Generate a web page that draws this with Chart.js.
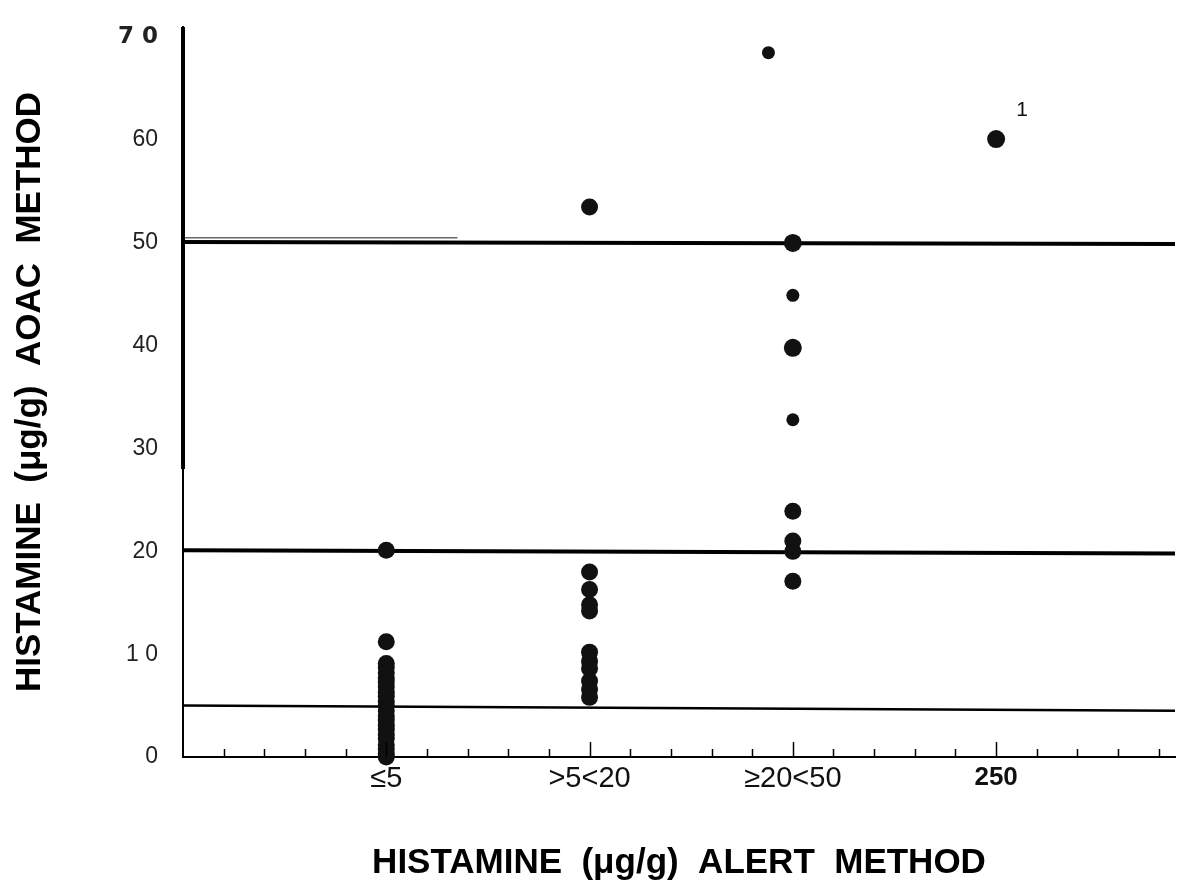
<!DOCTYPE html>
<html>
<head>
<meta charset="utf-8">
<script src="https://cdn.jsdelivr.net/npm/chart.js@4.4.1/dist/chart.umd.min.js"></script>
<style>
  html, body { margin: 0; background: #fff; }
  #wrap { width: 1184px; height: 890px; }
</style>
</head>
<body>
<div id="wrap"><canvas id="chart"></canvas></div>
<script>
// categories on the x axis (positions 1..4)
const categories = ["≤5", ">5<20", "≥20<50", "250"];
const yTickLabels = ["0", "1 0", "20", "30", "40", "50", "60", "7 0"];

// AOAC values
const le5 = [20.1, 11.2, 9.1, 8.7, 8.2, 7.7, 7.3, 6.8, 6.3, 5.9, 5.4, 5.0, 4.5, 4.0, 3.6, 3.1, 2.7, 2.2, 1.8, 1.2, 0.8, 0.3, 0];
const gt5lt20 = [53.5, 18.0, 16.3, 14.8, 14.2, 10.2, 9.3, 8.6, 7.4, 6.6, 5.8];
const ge20lt50 = [50.0, 44.9, 39.8, 32.8, 23.9, 21.0, 20.0, 17.1];
const eq250 = [60.1];
// top point of the >=20<50 group sits a little left of its column
const strayX = 2.88;
const strayY = 68.5;

// horizontal limit lines (left end / right end)
const limitStart = [50.1, 20.1, 5.0];
const limitEnd = [49.9, 19.8, 4.5];
// faint doubled stroke just above the 50 line on the left
const ghostLine = { from: 0, to: 1.35, y: 50.5 };

const xMax = 4.88;

// dot sizes in the >=20<50 column vary in the print
const ge20lt50Radius = [9, 6.5, 9, 6.5, 8.5, 8.5, 8.5, 8.5];

function column(vals, x) {
    return vals.map((v) => ({ x: x, y: v }));
}

const points = [
    ...column(le5, 1),
    ...column(gt5lt20, 2),
    ...column(ge20lt50, 3),
    ...column(eq250, 4),
    { x: strayX, y: strayY }
];
const radii = [
    ...le5.map(() => 8.5),
    ...gt5lt20.map(() => 8.5),
    ...ge20lt50Radius,
    ...eq250.map(() => 9),
    6.5
];

const limitWidths = [4, 4, 2.5];
const limitSets = limitStart.map((y0, i) => ({
    type: "line",
    data: [{ x: 0, y: y0 }, { x: xMax, y: limitEnd[i] }],
    borderColor: "#000",
    borderWidth: limitWidths[i],
    pointRadius: 0,
    fill: false
}));
limitSets.push({
    type: "line",
    data: [{ x: ghostLine.from, y: ghostLine.y }, { x: ghostLine.to, y: ghostLine.y }],
    borderColor: "#666",
    borderWidth: 1.3,
    pointRadius: 0,
    fill: false
});

// small tick marks pointing up into the plot, every 0.2
const inwardTicks = {
    id: "inwardTicks",
    afterDraw(chart) {
        const xs = chart.scales.x;
        const ys = chart.scales.y;
        const y0 = ys.getPixelForValue(0);
        const ctx = chart.ctx;
        ctx.save();
        ctx.strokeStyle = "#000";
        ctx.lineWidth = 1.5;
        for (let i = 1; i < 25; i++) {
            const v = i / 5;
            const px = Math.round(xs.getPixelForValue(v)) + 0.5;
            const len = i % 5 === 0 ? 15 : 8;
            ctx.beginPath();
            ctx.moveTo(px, y0);
            ctx.lineTo(px, y0 - len);
            ctx.stroke();
        }
        // the printed y axis is heavier in its upper part
        const ax = chart.chartArea.left;
        ctx.lineWidth = 4;
        ctx.beginPath();
        ctx.moveTo(ax, chart.chartArea.top);
        ctx.lineTo(ax, ys.getPixelForValue(28));
        ctx.stroke();
        ctx.restore();
    }
};

// footnote marker beside the 250 point
const footnote = {
    id: "footnote",
    afterDraw(chart) {
        const ctx = chart.ctx;
        const px = chart.scales.x.getPixelForValue(4);
        const py = chart.scales.y.getPixelForValue(eq250[0]);
        ctx.save();
        ctx.fillStyle = "#111";
        ctx.font = "21px 'Liberation Sans', Arial, sans-serif";
        ctx.textAlign = "center";
        ctx.textBaseline = "middle";
        ctx.fillText("1", px + 26, py - 29);
        ctx.restore();
    }
};

new Chart(document.getElementById("chart").getContext("2d"), {
    type: "scatter",
    data: {
        datasets: [
            {
                data: points,
                pointRadius: radii,
                pointBackgroundColor: "#111",
                pointBorderWidth: 0,
                clip: false
            },
            ...limitSets
        ]
    },
    options: {
        responsive: true,
        maintainAspectRatio: false,
        animation: false,
        layout: { padding: { top: 27, right: 0, bottom: 0, left: 0 } },
        plugins: {
            legend: { display: false },
            tooltip: { enabled: false }
        },
        scales: {
            x: {
                type: "linear",
                min: 0,
                max: xMax,
                grid: { display: false, drawTicks: false },
                border: { display: true, color: "#000", width: 2 },
                ticks: {
                    stepSize: 1,
                    includeBounds: false,
                    autoSkip: false,
                    maxRotation: 0,
                    padding: 5,
                    color: "#111",
                    font: (c) => c.tick && c.tick.value === 4
                        ? { family: "'Liberation Sans', Arial", size: 26, weight: "bold" }
                        : { family: "'Liberation Sans Narrow', 'Liberation Sans', Arial", size: 29 },
                    callback: (v) => categories[v - 1] || ""
                },
                title: {
                    display: true,
                    text: "HISTAMINE  (μg/g)  ALERT  METHOD",
                    color: "#000",
                    font: { family: "'Liberation Sans', Arial", size: 35, weight: "bold" },
                    padding: { top: 0, bottom: 6 }
                },
                afterFit: (s) => { s.height = 133; }
            },
            y: {
                min: 0,
                max: 71,
                grid: { display: false, drawTicks: false },
                border: { display: true, color: "#000", width: 2 },
                ticks: {
                    stepSize: 10,
                    includeBounds: false,
                    padding: 25,
                    color: "#222",
                    font: (c) => c.tick && c.tick.value === 70
                        ? { family: "'DejaVu Sans', sans-serif", size: 23, weight: "bold" }
                        : { family: "'Liberation Sans', Arial", size: 23 },
                    callback: (v) => yTickLabels[v / 10]
                },
                title: {
                    display: true,
                    text: "HISTAMINE  (μg/g)  AOAC  METHOD",
                    color: "#000",
                    font: { family: "'Liberation Sans', Arial", size: 35, weight: "bold" },
                    padding: { top: 9, bottom: 0 }
                },
                afterFit: (s) => {
                    s.width = 183;
                    // tick padding would otherwise push the plot top down
                    s.paddingTop = 0;
                }
            }
        }
    },
    plugins: [inwardTicks, footnote]
});
</script>
</body>
</html>
